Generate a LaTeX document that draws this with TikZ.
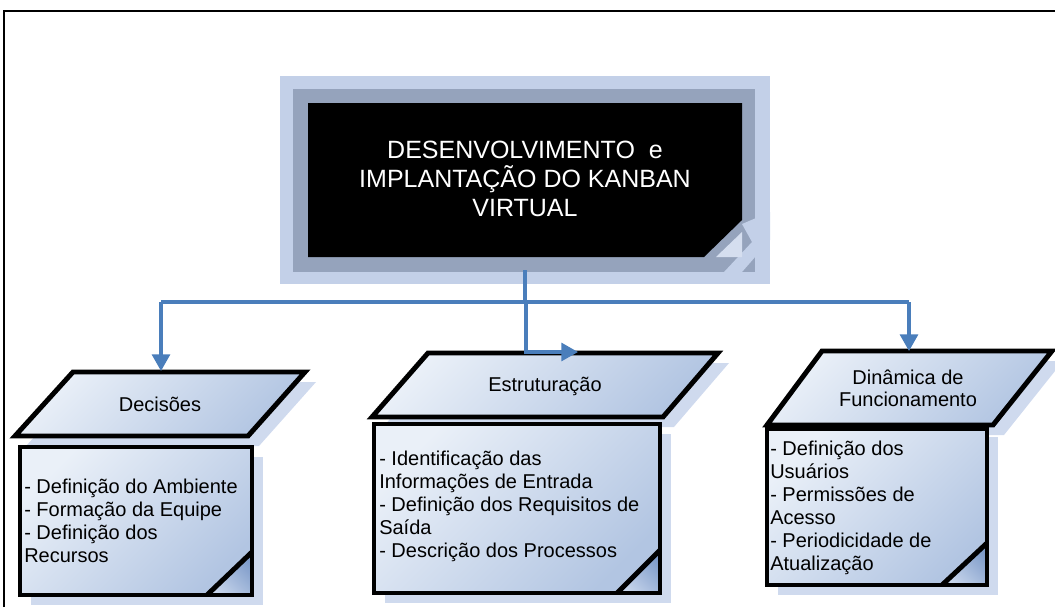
\documentclass[tikz,border=0pt]{standalone}
\usepackage{fontspec}
\setmainfont{Liberation Sans}
\usetikzlibrary{arrows.meta}
\definecolor{conn}{HTML}{4A7EBB}
\definecolor{bandout}{HTML}{C3D0E8}
\definecolor{bandmid}{HTML}{95A3BC}
\definecolor{shad}{HTML}{CFDAEE}
\definecolor{gl}{HTML}{EAF0F8}
\definecolor{gd}{HTML}{B2C5E2}
\definecolor{flapd}{HTML}{7E9BC9}
\definecolor{flapl}{HTML}{C8D6EC}
\begin{document}
\begin{tikzpicture}[x=0.75pt,y=-0.75pt,
  shadowfill/.style={fill=shad, draw=none},
  shapefill/.style={top color=gl, bottom color=gd, shading angle=45},
  outline/.style={draw=black, line width=3.7pt, line join=miter},
  flap/.style={top color=flapd, bottom color=flapl, shading angle=-45},
  bodytext/.style={font=\fontsize{15}{17.3}\selectfont, align=left, inner sep=0pt, anchor=west},
  headtext/.style={font=\fontsize{15}{16.3}\selectfont, align=center, inner sep=0pt},
  titletext/.style={font=\fontsize{18.75}{21.75}\selectfont, text=white, align=center, inner sep=0pt},
  link/.style={draw=conn, line width=2.3pt},
  arrowlink/.style={link, -{Triangle[width=13.5pt,length=12.5pt]}},
]
\useasboundingbox (0,0) rectangle (1055,607);
% outer frame
\draw[line width=1.5pt] (4,607) -- (4,11) -- (1056,11);

% title box
\fill[bandout] (280,76) rectangle (770,284);
\fill[bandmid] (293,89) rectangle (755,272);
\fill[black] (308,103) -- (742,103) -- (742,220) -- (704,257) -- (308,257) -- cycle;
\fill[bandout] (742,224) -- (770,212) -- (770,240) -- (742,272) -- (724,272) -- (752,242) -- cycle;
\fill[bandout!70!white] (742,232) -- (742,257) -- (716,257) -- cycle;
\node[titletext] (title) at (525,179) {DESENVOLVIMENTO\ \ e\\IMPLANTAÇÃO DO KANBAN\\VIRTUAL};

% ---------- Decisões ----------
\fill[shadowfill] (26,446) -- (259,446) -- (316,382) -- (84,382) -- cycle;
\fill[shadowfill] (31,457) rectangle (263,605);
\path[shapefill] (15,436) -- (248,436) -- (305,372) -- (73,372) -- cycle;
\draw[outline] (15,436) -- (248,436) -- (305,372) -- (73,372) -- cycle;
\path[shapefill] (20,447) rectangle (252,595);
\path[flap] (252,552) -- (252,595) -- (207,595) -- cycle;
\draw[outline] (20,447) rectangle (252,595);
\draw[outline] (252,552) -- (207,595);
\node[headtext] (dec) at (160,404) {Decisões};
\node[bodytext] (decb) at (24,521) {- Definição do Ambiente\\- Formação da Equipe\\- Definição dos\\Recursos};

% ---------- Estruturação ----------
\fill[shadowfill] (383,427) -- (674,427) -- (729,363) -- (439,363) -- cycle;
\fill[shadowfill] (385,434) rectangle (671,603);
\path[shapefill] (372,417) -- (663,417) -- (718,353) -- (428,353) -- cycle;
\draw[outline] (372,417) -- (663,417) -- (718,353) -- (428,353) -- cycle;
\path[shapefill] (374,424) rectangle (660,593);
\path[flap] (660,550) -- (660,593) -- (617,593) -- cycle;
\draw[outline] (374,424) rectangle (660,593);
\draw[outline] (660,550) -- (617,593);
\node[headtext] (est) at (545,386) {Estruturação};
\node[bodytext] (estb) at (379,506.5) {- Identificação das\\Informações de Entrada\\- Definição dos Requisitos de\\Saída\\- Descrição dos Processos};

% ---------- Dinâmica ----------
\fill[shadowfill] (778,435) -- (1004,435) -- (1063,361) -- (833,361) -- cycle;
\fill[shadowfill] (778,437) rectangle (998,595);
\path[shapefill] (767,425) -- (993,425) -- (1052,351) -- (822,351) -- cycle;
\draw[outline] (767,425) -- (993,425) -- (1052,351) -- (822,351) -- cycle;
\path[shapefill] (767,429) rectangle (987,585);
\path[flap] (987,543) -- (987,585) -- (942,585) -- cycle;
\draw[outline] (767,429) rectangle (987,585);
\draw[outline] (987,543) -- (942,585);
\node[headtext] (din) at (908,388) {Dinâmica de\\Funcionamento};
\node[bodytext] (dinb) at (770,508) {- Definição dos\\Usuários\\- Permissões de\\Acesso\\- Periodicidade de\\Atualização};

% ---------- connectors ----------
\coordinate (tb) at (525,270);
\coordinate (bus) at (525,302);
\coordinate (busL) at (161,302);
\coordinate (busR) at (909,302);
\coordinate (decTop) at (161,371);
\coordinate (dinTop) at (909,351);
\coordinate (midDown) at (526,302);
\coordinate (midBend) at (526,352);
\coordinate (estIn) at (578,352);
\draw[link] (tb) -- (bus);
\draw[link] (busL) -- (busR);
\draw[arrowlink] (busL) -- (decTop);
\draw[arrowlink] (busR) -- (dinTop);
\draw[arrowlink] (midDown) -- (midBend) -- (estIn);
\end{tikzpicture}
\end{document}
